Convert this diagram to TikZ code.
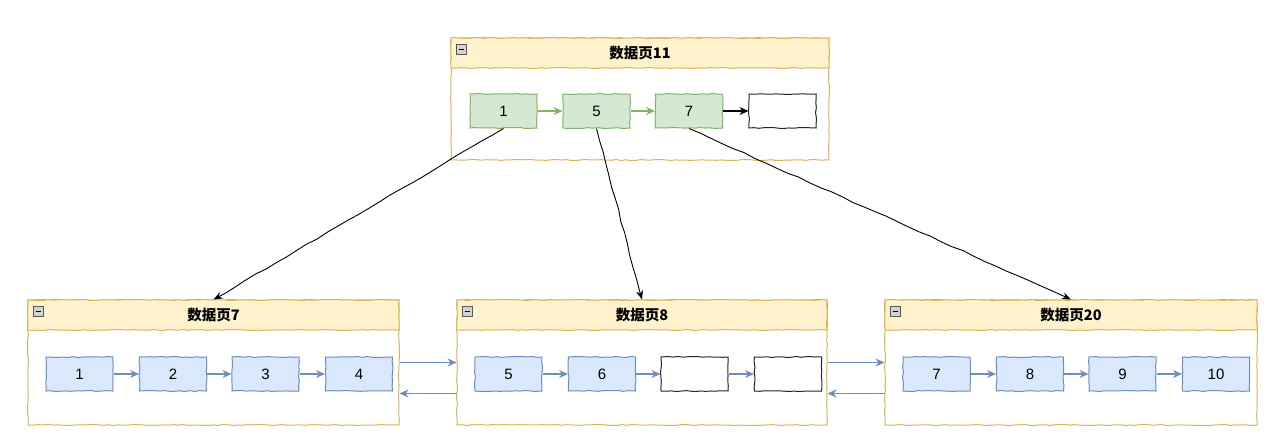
\documentclass[tikz,border=0pt]{standalone}
\usepackage{fontspec}
\setmainfont{Liberation Sans}
\newfontfamily\cjk{Noto Sans CJK SC}
\usetikzlibrary{arrows.meta, positioning, decorations.pathmorphing}
\definecolor{pagefill}{HTML}{FFF2CC}
\definecolor{pageline}{HTML}{D6B656}
\definecolor{keyfill}{HTML}{D5E8D4}
\definecolor{keyline}{HTML}{82B366}
\definecolor{recfill}{HTML}{DAE8FC}
\definecolor{recline}{HTML}{6C8EBF}
\pgfmathsetseed{7}

\begin{document}
\begin{tikzpicture}[x=1pt, y=-1pt,
  sketch/.style={decorate, decoration={random steps, segment length=5pt, amplitude=0.5pt}},
  pagebody/.style={draw=pageline, fill=white, line width=1pt, sketch,
    minimum height=125pt, inner sep=0pt},
  pagehead/.style={draw=pageline, fill=pagefill, line width=1pt, sketch,
    minimum height=30pt, inner sep=0pt, anchor=north,
    font=\cjk\bfseries\fontsize{14.5}{17}\selectfont},
  tog/.style={draw=gray!70!black, fill=gray!35, line width=0.6pt,
    minimum size=10pt, inner sep=0pt,
    path picture={\draw[black, line width=1.2pt]
      ([xshift=2.2pt]path picture bounding box.west) --
      ([xshift=-2.2pt]path picture bounding box.east);}},
  cell/.style={minimum width=67pt, minimum height=34pt, inner sep=0pt,
    line width=1pt, sketch, font=\fontsize{15}{17}\selectfont},
  key/.style={cell, draw=keyline, fill=keyfill},
  rec/.style={cell, draw=recline, fill=recfill},
  slot/.style={cell, draw=black!85, fill=white},
  link/.style={-{Stealth[length=9pt,width=8pt]}, line width=1.4pt},
  ptr/.style={-{Stealth[length=9pt,width=7pt]}, line width=0.9pt,
    decorate, decoration={random steps, segment length=12pt, amplitude=0.6pt}}
]
  \useasboundingbox (0,0) rectangle (1287,447);

  % index page
  \node[pagebody, minimum width=378pt, minimum height=122pt] (p11) at (640,99) {};
  \node[pagehead, minimum width=378pt] (p11h) at (p11.north) {数据页11};
  \node[tog] (p11t) at ([xshift=11pt, yshift=-12pt]p11.north west) {};
  \node[key, anchor=west] (k1) at ([xshift=19pt, yshift=-73.5pt]p11.north west) {1};
  \node[key, right=25pt of k1] (k5) {5};
  \node[key, right=24.5pt of k5] (k7) {7};
  \node[slot, right=25.5pt of k7] (k0) {};
  \draw[link, keyline] (k1) -- (k5);
  \draw[link, keyline] (k5) -- (k7);
  \draw[link, black] (k7) -- (k0);

  % leaf pages
  \node[pagebody, minimum width=371pt] (p7) at (213.5,362.5) {};
  \node[pagehead, minimum width=371pt] (p7h) at (p7.north) {数据页7};
  \node[tog] (p7t) at ([xshift=11pt, yshift=-12pt]p7.north west) {};
  \node[rec, anchor=west] (a1) at ([xshift=18pt, yshift=-74.5pt]p7.north west) {1};
  \node[rec, right=25.5pt of a1] (a2) {2};
  \node[rec, right=24.5pt of a2] (a3) {3};
  \node[rec, right=25.5pt of a3] (a4) {4};
  \draw[link, recline] (a1) -- (a2);
  \draw[link, recline] (a2) -- (a3);
  \draw[link, recline] (a3) -- (a4);

  \node[pagebody, minimum width=370pt] (p8) at (642,362.5) {};
  \node[pagehead, minimum width=370pt] (p8h) at (p8.north) {数据页8};
  \node[tog] (p8t) at ([xshift=11pt, yshift=-12pt]p8.north west) {};
  \node[rec, anchor=west] (b5) at ([xshift=18pt, yshift=-74.5pt]p8.north west) {5};
  \node[rec, right=25.5pt of b5] (b6) {6};
  \node[slot, right=24.5pt of b6] (b0) {};
  \node[slot, right=25.5pt of b0] (b00) {};
  \draw[link, recline] (b5) -- (b6);
  \draw[link, recline] (b6) -- (b0);
  \draw[link, recline] (b0) -- (b00);

  \node[pagebody, minimum width=372pt] (p20) at (1071,362.5) {};
  \node[pagehead, minimum width=372pt] (p20h) at (p20.north) {数据页20};
  \node[tog] (p20t) at ([xshift=11pt, yshift=-12pt]p20.north west) {};
  \node[rec, anchor=west] (c7) at ([xshift=18pt, yshift=-74.5pt]p20.north west) {7};
  \node[rec, right=25.5pt of c7] (c8) {8};
  \node[rec, right=24.5pt of c8] (c9) {9};
  \node[rec, right=25.5pt of c9] (c10) {10};
  \draw[link, recline] (c7) -- (c8);
  \draw[link, recline] (c8) -- (c9);
  \draw[link, recline] (c9) -- (c10);

  % double links between leaves
  \draw[link, recline, line width=1.1pt] (p7.east) -- (p8.west);
  \draw[link, recline, line width=1.1pt] ([yshift=-31pt]p8.west) -- ([yshift=-31pt]p7.east);
  \draw[link, recline, line width=1.1pt] (p8.east) -- (p20.west);
  \draw[link, recline, line width=1.1pt] ([yshift=-31pt]p20.west) -- ([yshift=-31pt]p8.east);

  % pointers from index to leaves
  \draw[ptr] (k1.south) -- (p7h.north);
  \draw[ptr] (k5.south) -- (p8h.north);
  \draw[ptr] (k7.south) -- (p20h.north);
\end{tikzpicture}
\end{document}
